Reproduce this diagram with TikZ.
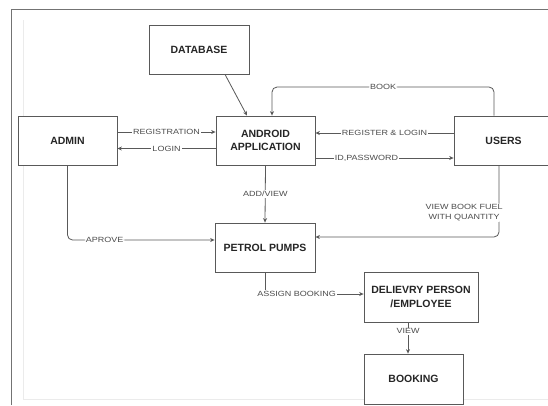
\documentclass[tikz,border=0pt]{standalone}
\usepackage{fontspec}
\setmainfont{Liberation Sans}
\newfontfamily\lblfont[FakeStretch=1.2]{Liberation Sans}
\usetikzlibrary{arrows.meta,calc}
\begin{document}
\begin{tikzpicture}[x=1pt,y=-1pt,
  box/.style={draw=black!65,line width=0.8pt,fill=white,align=center,inner sep=1pt,
    font=\fontsize{10.5}{13.5}\selectfont\bfseries,text=black!85},
  arr/.style={draw=black!65,line width=0.8pt,-{Stealth[length=4.5pt,width=4pt]}},
  lbl/.style={fill=white,inner sep=1pt,font=\lblfont\fontsize{7.5}{8.5}\selectfont,text=black!70},
  frame/.style={draw=black!55,line width=0.9pt}]
\useasboundingbox (0,0) rectangle (548,405);
\fill[white] (0,0) rectangle (548,405);
% page frame
\draw[frame] (11.5,405) -- (11.5,9.5) -- (548,9.5);
\draw[draw=black!8,line width=0.5pt] (23,20) -- (23,399) -- (548,399);
% nodes
\node[box,minimum width=100pt,minimum height=49pt] (db) at (199,49.5) {DATABASE};
\node[box,minimum width=99pt,minimum height=49pt] (admin) at (67.5,140.5) {ADMIN};
\node[box,minimum width=99pt,minimum height=49pt] (app) at (265.5,140.5) {ANDROID\\APPLICATION};
\node[box,minimum width=99pt,minimum height=49pt] (users) at (503.5,140.5) {USERS};
\node[box,minimum width=100pt,minimum height=49pt] (petrol) at (265,247.5) {PETROL PUMPS};
\node[box,minimum width=114pt,minimum height=50pt] (deliv) at (421,297) {DELIEVRY PERSON\\/EMPLOYEE};
\node[box,minimum width=99pt,minimum height=50pt] (booking) at (413.5,379) {BOOKING};
% helper coordinates
\coordinate (bkrow) at (0,87);
\coordinate (dbout) at ([xshift=26pt]db.south);
\coordinate (appin) at ([xshift=-18.5pt]app.north);
\coordinate (appbk) at ([xshift=6.5pt]app.north);
\coordinate (usrtop) at ([xshift=-9.5pt]users.north);
\coordinate (dbot) at ([xshift=-13pt]deliv.south);
% connectors
\draw[arr] (dbout) -- (appin);
\draw[arr,rounded corners=5pt] (usrtop) |- (bkrow -| appbk) node[lbl,pos=0.75]{BOOK} -- (appbk);
\draw[arr] ([yshift=8.5pt]admin.east) -- node[lbl]{REGISTRATION} ([yshift=8.5pt]app.west);
\draw[arr] ([yshift=-8pt]app.west) -- node[lbl]{LOGIN} ([yshift=-8pt]admin.east);
\draw[arr] ([yshift=7.5pt]users.west) -- node[lbl,pos=0.5]{REGISTER \& LOGIN} ([yshift=7.5pt]app.east);
\draw[arr] ([yshift=-17.5pt]app.east) -- node[lbl,pos=0.37]{ID,PASSWORD} ([yshift=-17.5pt]users.west);
\draw[arr] (app.south) -- node[lbl]{ADD/VIEW} (petrol.north);
\draw[arr,rounded corners=5pt] (admin.south) |- node[lbl,pos=0.626]{APROVE} ([yshift=7.5pt]petrol.west);
\draw[arr,rounded corners=5pt] ([xshift=-4.5pt]users.south) |- node[lbl,pos=0.33,anchor=east,xshift=5pt,align=center,font=\lblfont\fontsize{7.5}{10}\selectfont]{VIEW BOOK FUEL\\WITH QUANTITY} ([yshift=10.5pt]petrol.east);
\draw[arr] (petrol.south) |- node[lbl,pos=0.66]{ASSIGN BOOKING} ([yshift=3pt]deliv.west);
\draw[arr] (dbot) -- node[lbl,pos=0.28]{VIEW} (dbot |- booking.north);
\end{tikzpicture}
\end{document}
